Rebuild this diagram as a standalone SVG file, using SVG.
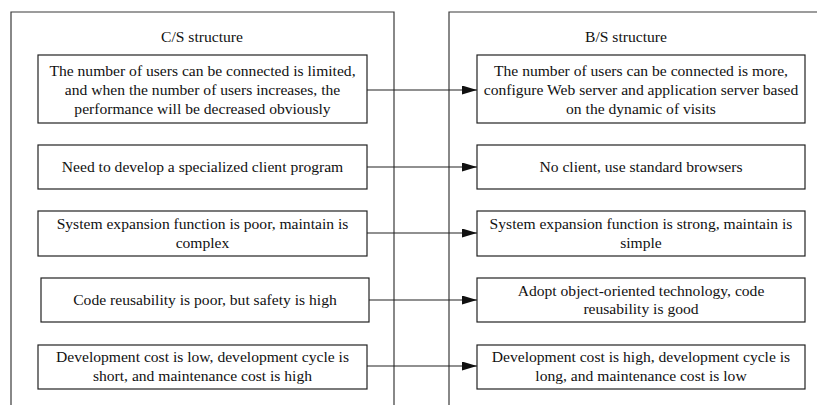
<svg xmlns="http://www.w3.org/2000/svg" width="817" height="405" viewBox="0 0 817 405">
  <style>
    .frame { fill: none; stroke: #3a3a3a; stroke-width: 1.2; }
    .box { fill: #fff; stroke: #222; stroke-width: 1.2; }
    .t { font-family: "Liberation Serif", "Times New Roman", serif; font-size: 15.6px; fill: #111; text-anchor: middle; }
    .edge { stroke: #222; stroke-width: 1.2; fill: none; marker-end: url(#arrow); }
  </style>
  <defs>
    <marker id="arrow" markerWidth="15" markerHeight="9" refX="15" refY="4.5" orient="auto" markerUnits="userSpaceOnUse">
      <path d="M0,0 L15,4.5 L0,9 Z" fill="#111"/>
    </marker>
  </defs>
  <rect width="817" height="405" fill="#fff"/>

  <!-- column frames, open at the bottom -->
  <g id="cs-frame">
    <path class="frame" d="M11,406 V12 H394 V406"/>
    <text class="t" x="202" y="42">C/S structure</text>
  </g>
  <g id="bs-frame">
    <path class="frame" d="M449,406 V12 H818"/>
    <text class="t" x="626" y="42">B/S structure</text>
  </g>

  <!-- C/S column -->
  <g id="cs1">
    <rect class="box" x="38" y="55" width="329" height="68"/>
    <text class="t" x="202.5" y="76">The number of users can be connected is limited,</text>
    <text class="t" x="202.5" y="95">and when the number of users increases, the</text>
    <text class="t" x="202.5" y="113.5">performance will be decreased obviously</text>
  </g>
  <g id="cs2">
    <rect class="box" x="38" y="145" width="329" height="44"/>
    <text class="t" x="202.5" y="172">Need to develop a specialized client program</text>
  </g>
  <g id="cs3">
    <rect class="box" x="38" y="211" width="329" height="45"/>
    <text class="t" x="202.5" y="229">System expansion function is poor, maintain is</text>
    <text class="t" x="202.5" y="248">complex</text>
  </g>
  <g id="cs4">
    <rect class="box" x="41" y="278" width="328" height="44"/>
    <text class="t" x="205" y="305">Code reusability is poor, but safety is high</text>
  </g>
  <g id="cs5">
    <rect class="box" x="38" y="345" width="329" height="44"/>
    <text class="t" x="202.5" y="362">Development cost is low, development cycle is</text>
    <text class="t" x="202.5" y="381">short, and maintenance cost is high</text>
  </g>

  <!-- B/S column -->
  <g id="bs1">
    <rect class="box" x="477" y="55" width="328" height="68"/>
    <text class="t" x="641" y="76">The number of users can be connected is more,</text>
    <text class="t" x="641" y="95">configure Web server and application server based</text>
    <text class="t" x="641" y="113.5">on the dynamic of visits</text>
  </g>
  <g id="bs2">
    <rect class="box" x="477" y="145" width="328" height="44"/>
    <text class="t" x="641" y="172">No client, use standard browsers</text>
  </g>
  <g id="bs3">
    <rect class="box" x="477" y="211" width="328" height="45"/>
    <text class="t" x="641" y="229">System expansion function is strong, maintain is</text>
    <text class="t" x="641" y="248">simple</text>
  </g>
  <g id="bs4">
    <rect class="box" x="477" y="278" width="328" height="44"/>
    <text class="t" x="641" y="296">Adopt object-oriented technology, code</text>
    <text class="t" x="641" y="314">reusability is good</text>
  </g>
  <g id="bs5">
    <rect class="box" x="477" y="345" width="328" height="44"/>
    <text class="t" x="641" y="362">Development cost is high, development cycle is</text>
    <text class="t" x="641" y="381">long, and maintenance cost is low</text>
  </g>

  <!-- connectors -->
  <g id="edges">
    <line class="edge" x1="367" y1="90" x2="477" y2="90"/>
    <line class="edge" x1="367" y1="167" x2="477" y2="167"/>
    <line class="edge" x1="367" y1="233" x2="477" y2="233"/>
    <line class="edge" x1="369" y1="300" x2="477" y2="300"/>
    <line class="edge" x1="367" y1="366" x2="477" y2="366"/>
  </g>
</svg>
